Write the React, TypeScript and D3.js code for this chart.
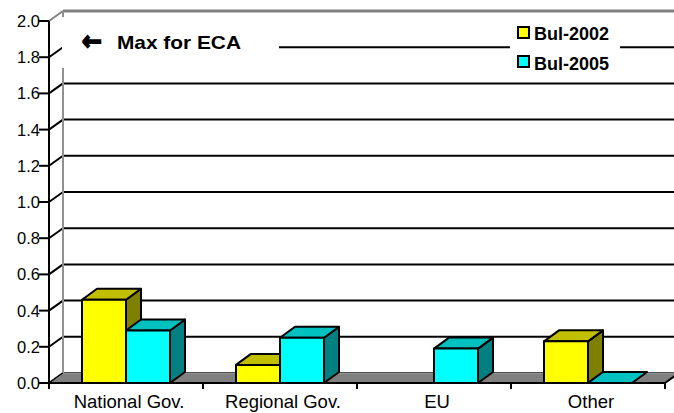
import React from "react";
import * as d3 from "d3";

const categories = ["National Gov.", "Regional Gov.", "EU", "Other"];
const seriesNames = ["Bul-2002", "Bul-2005"];
const bul2002 = [0.46, 0.1, 0, 0.23];
const bul2005 = [0.29, 0.25, 0.19, 0];
const yTicks = [0, 0.2, 0.4, 0.6, 0.8, 1.0, 1.2, 1.4, 1.6, 1.8, 2.0];
const titleText = "Max for ECA";

const faceColors = ["#FFFF00", "#00FFFF"];
const topColors = ["#C0C000", "#00C0C0"];
const sideColors = ["#808000", "#008080"];

const W = 674;
const H = 413;
const X0 = 49;
const X1 = 665;
const DX = 14;
const DY = -10;
const BDX = 15;
const BDY = -11;
const FONT = "'Liberation Sans', Arial, sans-serif";

export default function App() {
  const y = d3.scaleLinear().domain([0, 2]).range([383, 21]);
  const x = d3.scaleBand<string>().domain(categories).range([X0, X1]).padding(0);
  const inner = d3
    .scaleBand<number>()
    .domain([0, 1])
    .range([33, x.bandwidth() - 33])
    .padding(0);
  const series = [bul2002, bul2005];

  const backRight = X1 + DX + 20;

  const bars: React.ReactNode[] = [];
  categories.forEach((c, ci) => {
    series.forEach((vals, si) => {
      const v = vals[ci];
      if (v === undefined) return;
      if (si === 0 && v === 0) return;
      const bx = (x(c) as number) + (inner(si) as number);
      const bw = inner.bandwidth();
      const yt = y(v);
      const yb = y(0);
      const key = `${ci}-${si}`;
      const top = `M${bx},${yt} L${bx + BDX},${yt + BDY} L${bx + bw + BDX},${yt + BDY} L${bx + bw},${yt} Z`;
      const side = `M${bx + bw},${yt} L${bx + bw + BDX},${yt + BDY} L${bx + bw + BDX},${yb + BDY} L${bx + bw},${yb} Z`;
      bars.push(
        <g key={key} stroke="#000" strokeWidth={2} strokeLinejoin="round">
          {v > 0 && <path d={side} fill={sideColors[si]} />}
          <path d={top} fill={topColors[si]} />
          {v > 0 && <rect x={bx} y={yt} width={bw} height={yb - yt} fill={faceColors[si]} />}
        </g>
      );
    });
  });

  return (
    <svg
      width={W}
      height={H}
      style={{ position: "absolute", left: 0, top: 0, background: "#fff" }}
      fontFamily={FONT}
    >
      <rect x={0} y={0} width={W} height={H} fill="#fff" />
      {/* back wall gridlines */}
      {yTicks.map((t) => {
        const yy = y(t);
        const isTop = t === 2;
        return (
          <g key={`g${t}`}>
            <line
              x1={X0 + DX}
              x2={backRight}
              y1={yy + DY}
              y2={yy + DY}
              stroke={isTop ? "#808080" : "#000"}
              strokeWidth={isTop ? 3 : 2}
            />
            <line
              x1={X0}
              y1={yy}
              x2={X0 + DX}
              y2={yy + DY}
              stroke={isTop ? "#808080" : "#000"}
              strokeWidth={2}
            />
          </g>
        );
      })}
      {/* back wall left edge */}
      <line x1={X0 + DX} x2={X0 + DX} y1={y(2) + DY} y2={y(0) + DY} stroke="#909090" strokeWidth={2} />
      {/* floor */}
      <path
        d={`M${X0},${y(0)} L${X0 + DX},${y(0) + DY} L${backRight},${y(0) + DY} L${backRight},${y(0)} Z`}
        fill="#808080"
        stroke="none"
      />
      <line x1={X0 + DX} x2={backRight} y1={y(0) + DY} y2={y(0) + DY} stroke="#a0a0a0" strokeWidth={1} />
      <path
        d={`M${X1},${y(0)} L${X1 + DX},${y(0) + DY} L${backRight},${y(0) + DY} L${backRight},${y(0) + 10} L${X1 + 2},${y(0) + 10} Z`}
        fill="#fff"
      />
      <line x1={X1} y1={y(0)} x2={X1 + DX} y2={y(0) + DY} stroke="#000" strokeWidth={2} />
      <line x1={X0 + DX} y1={y(0) + DY} x2={X0} y2={y(0)} stroke="#000" strokeWidth={1} />
      {/* bars */}
      {bars}
      {/* front axes */}
      <line x1={X0} x2={X0} y1={y(2)} y2={y(0) + 5} stroke="#000" strokeWidth={2} />
      <line x1={X0 - 1} x2={X1 + 1} y1={y(0)} y2={y(0)} stroke="#000" strokeWidth={2} />
      {yTicks.map((t) => (
        <g key={`t${t}`}>
          <line x1={X0 - 10} x2={X0} y1={y(t)} y2={y(t)} stroke="#000" strokeWidth={2} />
          <text
            x={X0 - 9}
            y={y(t) + 6}
            textAnchor="end"
            fontSize={16.5}
            fill="#000"
          >
            {t.toFixed(1)}
          </text>
        </g>
      ))}
      {[...categories.map((c) => x(c) as number), X1].map((px, i) => (
        <line key={`xt${i}`} x1={px} x2={px} y1={y(0)} y2={y(0) + 6} stroke="#000" strokeWidth={2} />
      ))}
      {categories.map((c) => (
        <text
          key={`xl${c}`}
          x={(x(c) as number) + x.bandwidth() / 2 + 3}
          y={408}
          textAnchor="middle"
          fontSize={18.5}
          fill="#000"
        >
          {c}
        </text>
      ))}
      {/* title box */}
      <rect x={62} y={17} width={217} height={51} fill="#fff" />
      <text
        x={82}
        y={50}
        fontSize={26}
        fontWeight="bold"
        fill="#000"
        stroke="#000"
        strokeWidth={1.6}
        fontFamily="'DejaVu Sans', sans-serif"
        textLength={20}
        lengthAdjust="spacingAndGlyphs"
      >
        ←
      </text>
      <text
        x={117}
        y={49}
        fontSize={19}
        fontWeight="bold"
        fill="#000"
        textLength={124}
        lengthAdjust="spacingAndGlyphs"
      >
        {titleText}
      </text>
      {/* legend */}
      <rect x={510} y={18} width={110} height={57} fill="#fff" />
      {seriesNames.map((s, i) => (
        <g key={`lg${s}`}>
          <rect
            x={518}
            y={27 + i * 29}
            width={11}
            height={11}
            fill={faceColors[i]}
            stroke="#000"
            strokeWidth={2}
          />
          <text x={534} y={40 + i * 30} fontSize={18} fontWeight="bold" fill="#000">
            {s}
          </text>
        </g>
      ))}
    </svg>
  );
}
